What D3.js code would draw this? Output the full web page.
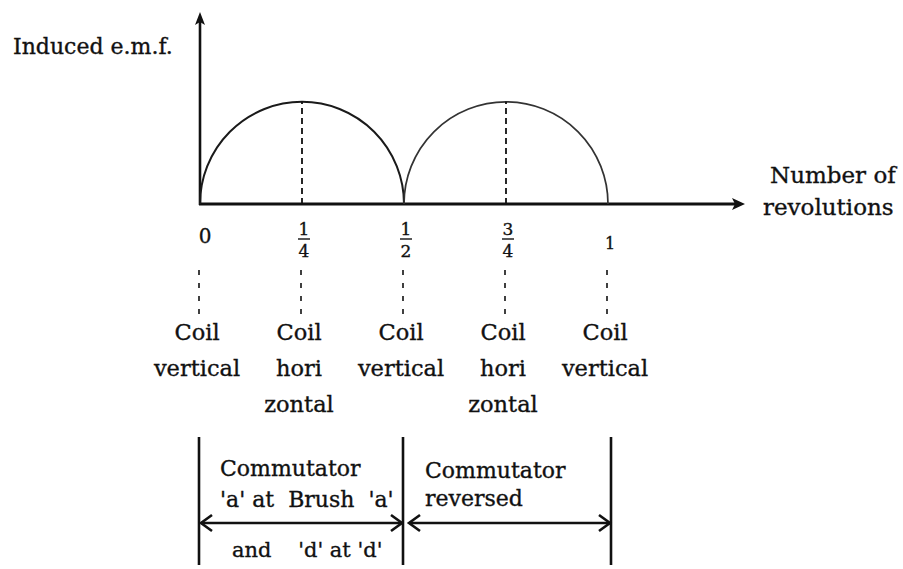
<!DOCTYPE html>
<html>
<head>
<meta charset="utf-8">
<script src="https://cdn.jsdelivr.net/npm/d3@7"></script>
<style>
body { margin: 0; background: #fff; }
text { font-family: "DejaVu Serif", serif; fill: #111; stroke: #111; stroke-width: 0.35px; }
</style>
</head>
<body>
<div id="canvas"></div>
<script>
// ----------------------------------------------------------
// DATA -----------------------------------------------------
// ----------------------------------------------------------
var tick_values = [0, 0.25, 0.5, 0.75, 1];
var tick_labels = ["0", "1/4", "1/2", "3/4", "1"];
var coil_labels = [
  ["Coil", "vertical"],
  ["Coil", "hori", "zontal"],
  ["Coil", "vertical"],
  ["Coil", "hori", "zontal"],
  ["Coil", "vertical"]
];
// each half revolution gives one arch of e.m.f.
var arch_start = [0, 0.5];
var arch_end = [0.5, 1];
var arch_peak_at = [0.25, 0.75];
var emf_peak = 1;
// commutator phases
var phase_from = [0, 0.5];
var phase_to = [0.5, 1];
var phase_text = [["Commutator", "'a' at  Brush  'a'"], ["Commutator", "reversed"]];
var phase_below = ["and    'd' at 'd'", ""];

var text_y_axis = "Induced e.m.f.";
var text_x_axis = ["Number of", "revolutions"];

// ----------------------------------------------------------
// STRUCTURE ------------------------------------------------
// ----------------------------------------------------------
var svg = d3.select("#canvas").append("svg")
  .attr("width", 903)
  .attr("height", 569)
  .style("background-color", "#fff");

var stroke_col = "#111";

// ----------------------------------------------------------
// SCALES ---------------------------------------------------
// ----------------------------------------------------------
var xScale = d3.scaleLinear().domain([0, 1]).range([200, 608]);
var yScale = d3.scaleLinear().domain([0, 1.88]).range([204, 12]);
var y0 = yScale(0);

// ----------------------------------------------------------
// AXES -----------------------------------------------------
// ----------------------------------------------------------
var axis_group = svg.append("g").attr("class", "axis_group");
// y axis
axis_group.append("line")
  .attr("x1", xScale(0)).attr("x2", xScale(0))
  .attr("y1", y0 + 1).attr("y2", yScale(1.88) + 8)
  .style("stroke", stroke_col).style("stroke-width", 2.6);
axis_group.append("path")
  .attr("d", `M${xScale(0)},${yScale(1.88)} L${xScale(0) - 5},${yScale(1.88) + 13} L${xScale(0)},${yScale(1.88) + 10} L${xScale(0) + 5},${yScale(1.88) + 13} Z`)
  .style("fill", stroke_col);
// x axis
var x_tip = 745;
axis_group.append("line")
  .attr("x1", xScale(0) - 1).attr("x2", x_tip - 8)
  .attr("y1", y0).attr("y2", y0)
  .style("stroke", stroke_col).style("stroke-width", 2.8);
axis_group.append("path")
  .attr("d", `M${x_tip},${y0} L${x_tip - 13},${y0 - 6} L${x_tip - 10},${y0} L${x_tip - 13},${y0 + 6} Z`)
  .style("fill", stroke_col);

// axis titles
axis_group.append("text")
  .attr("x", 13).attr("y", 54)
  .style("font-size", "22px")
  .text(text_y_axis);
axis_group.selectAll(".xtitle")
  .data(text_x_axis)
  .enter().append("text")
  .attr("class", "xtitle")
  .attr("x", function(d, i) { return i == 0 ? 770 : 763; })
  .attr("y", function(d, i) { return 183 + i * 32; })
  .style("font-size", "23px")
  .text(function(d) { return d; });

// ----------------------------------------------------------
// ARCHES ---------------------------------------------------
// ----------------------------------------------------------
var gfx = svg.append("g").attr("class", "gfx");
gfx.selectAll(".arch")
  .data(arch_start)
  .enter().append("path")
  .attr("class", "arch")
  .attr("d", function(d, i) {
    var xa = xScale(d), xb = xScale(arch_end[i]);
    var rx = (xb - xa) / 2, ry = y0 - yScale(emf_peak);
    return `M${xa},${y0} A${rx},${ry} 0 0 1 ${xb},${y0}`;
  })
  .style("fill", "none")
  .style("stroke", function(d, i) { return i == 0 ? "#1a1a1a" : "#333"; })
  .style("stroke-width", function(d, i) { return i == 0 ? 2 : 1.7; });

// dashed lines up to the peaks
gfx.selectAll(".peak")
  .data(arch_peak_at)
  .enter().append("line")
  .attr("class", "peak")
  .attr("x1", function(d) { return xScale(d); })
  .attr("x2", function(d) { return xScale(d); })
  .attr("y1", y0)
  .attr("y2", yScale(emf_peak))
  .style("stroke", stroke_col).style("stroke-width", 1.8)
  .style("stroke-dasharray", "6,4");

// ----------------------------------------------------------
// TICK LABELS ----------------------------------------------
// ----------------------------------------------------------
var tick_group = svg.append("g").attr("class", "tick_group");
tick_values.forEach(function(v, i) {
  var x = xScale(v) + (i == 0 ? 5 : 2);
  var lab = tick_labels[i].split("/");
  if (lab.length == 1) {
    tick_group.append("text")
      .attr("x", x).attr("y", i == 0 ? 243 : 249)
      .attr("text-anchor", "middle")
      .style("font-size", i == 0 ? "20px" : "16px")
      .text(lab[0]);
  } else {
    tick_group.append("text")
      .attr("x", x).attr("y", 235)
      .attr("text-anchor", "middle")
      .style("font-size", "17px")
      .text(lab[0]);
    tick_group.append("line")
      .attr("x1", x - 6).attr("x2", x + 6)
      .attr("y1", 239).attr("y2", 239)
      .style("stroke", stroke_col).style("stroke-width", 1.4);
    tick_group.append("text")
      .attr("x", x).attr("y", 257)
      .attr("text-anchor", "middle")
      .style("font-size", "17px")
      .text(lab[1]);
  }
  // short dashed connector
  tick_group.append("line")
    .attr("x1", xScale(v) - 1).attr("x2", xScale(v) - 1)
    .attr("y1", 270).attr("y2", 314)
    .style("stroke", stroke_col).style("stroke-width", 1.6)
    .style("stroke-dasharray", "5,8");
});

// coil position labels
var coil_group = svg.append("g").attr("class", "coil_group");
coil_labels.forEach(function(lines, i) {
  coil_group.selectAll(null)
    .data(lines)
    .enter().append("text")
    .attr("x", xScale(tick_values[i]) - 3)
    .attr("y", function(d, j) { return 340 + j * 36; })
    .attr("text-anchor", "middle")
    .style("font-size", "22.5px")
    .text(function(d) { return d; });
});

// ----------------------------------------------------------
// COMMUTATOR PHASES ----------------------------------------
// ----------------------------------------------------------
var phase_group = svg.append("g").attr("class", "phase_group");
var bar_edges = [0, 0.5, 1];
phase_group.selectAll(".edge")
  .data(bar_edges)
  .enter().append("line")
  .attr("class", "edge")
  .attr("x1", function(d) { return xScale(d) + (d == 1 ? 3 : -1); })
  .attr("x2", function(d) { return xScale(d) + (d == 1 ? 3 : -1); })
  .attr("y1", 437).attr("y2", 565)
  .style("stroke", stroke_col).style("stroke-width", 2.6);

var arrow_y = 523;
phase_from.forEach(function(f, i) {
  var xa = xScale(f) + (i == 0 ? 1 : 5);
  var xb = xScale(phase_to[i]) + (i == 0 ? -2 : 2);
  phase_group.append("line")
    .attr("x1", xa).attr("x2", xb)
    .attr("y1", arrow_y).attr("y2", arrow_y)
    .style("stroke", stroke_col).style("stroke-width", 2.6);
  phase_group.append("path")
    .attr("d", `M${xa + 11},${arrow_y - 8} L${xa},${arrow_y} L${xa + 11},${arrow_y + 8}`
      + ` M${xb - 11},${arrow_y - 8} L${xb},${arrow_y} L${xb - 11},${arrow_y + 8}`)
    .style("fill", "none").style("stroke", stroke_col).style("stroke-width", 2.6);

  phase_group.selectAll(null)
    .data(phase_text[i])
    .enter().append("text")
    .attr("x", xScale(f) + (i == 0 ? 20 : 21))
    .attr("y", function(d, j) { return (i == 0 ? 476 : 478) + j * (i == 0 ? 31 : 28); })
    .style("font-size", "22px")
    .style("white-space", "pre")
    .text(function(d) { return d; });

  if (phase_below[i]) {
    phase_group.append("text")
      .attr("x", xScale(f) + 32)
      .attr("y", 557)
      .style("font-size", "21px")
      .style("white-space", "pre")
      .text(phase_below[i]);
  }
});
</script>
</body>
</html>
